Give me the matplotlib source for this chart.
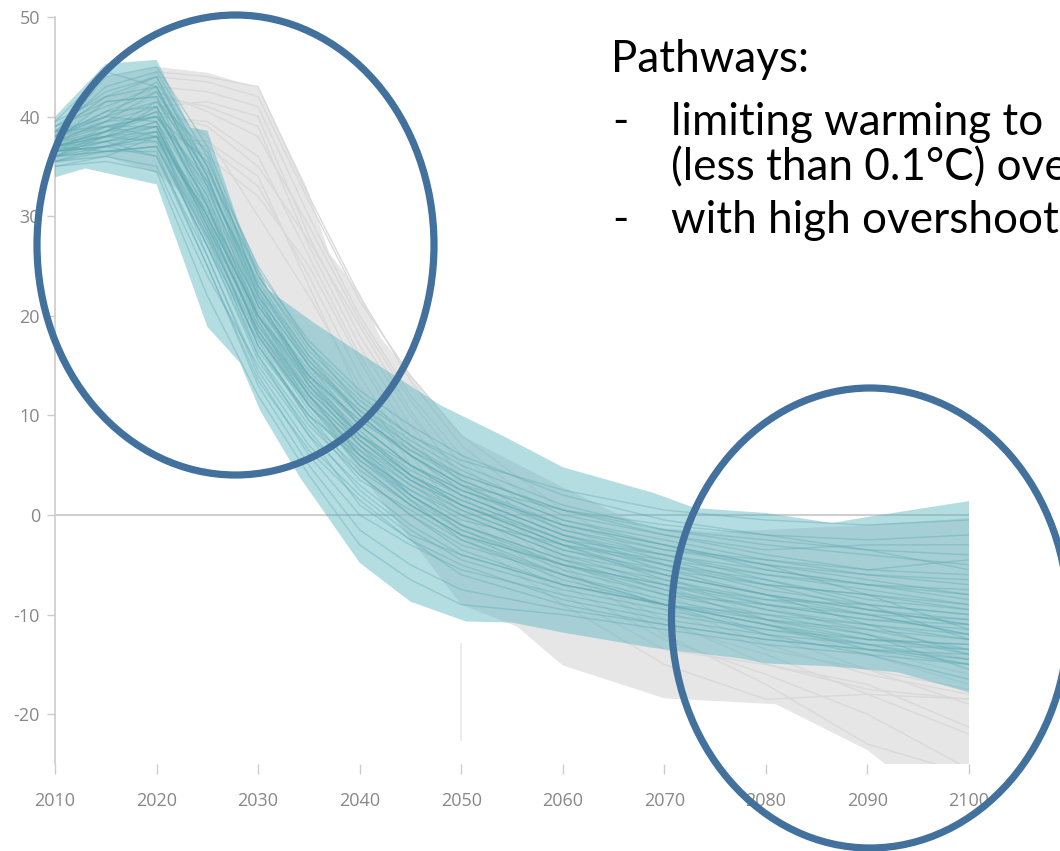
import matplotlib
matplotlib.use("Agg")
import matplotlib.pyplot as plt
from matplotlib.patches import Ellipse

# ---------------------------------------------------------------------------
# Data
# ---------------------------------------------------------------------------
years = [2010, 2015, 2020, 2025, 2030, 2035, 2040, 2045, 2050, 2060, 2070, 2080, 2090, 2100]

# Pathways limiting warming to 1.5°C with no or limited overshoot
low_overshoot_paths = [
    [39.5, 42.0, 44.0, 34.0, 22.0, 15.0, 10.0, 6.0, 3.0, -1.0, -3.0, -5.0, -6.0, -7.0],
    [37.0, 38.0, 41.0, 30.0, 20.0, 13.0, 8.0, 4.0, 1.0, -3.0, -6.0, -8.0, -9.5, -11.0],
    [36.0, 36.5, 37.0, 28.0, 18.0, 11.0, 5.0, 1.0, -2.0, -5.0, -8.0, -10.0, -12.0, -14.0],
    [38.0, 40.5, 42.5, 35.0, 24.0, 17.0, 12.0, 8.0, 5.0, 1.0, -1.5, -3.0, -4.0, -5.0],
    [35.0, 36.0, 35.0, 24.0, 15.0, 8.0, 3.0, -1.0, -4.0, -7.0, -9.0, -11.0, -13.0, -15.0],
    [37.5, 39.5, 40.0, 32.0, 21.0, 14.0, 9.0, 5.0, 2.0, -2.0, -4.0, -6.0, -7.0, -8.5],
    [36.5, 37.5, 39.0, 29.0, 17.0, 10.0, 6.0, 2.5, 0.0, -4.0, -7.0, -9.0, -10.0, -12.0],
    [38.5, 43.0, 44.5, 36.0, 23.0, 16.0, 11.0, 7.5, 4.5, 0.0, -2.0, -3.5, -3.0, -3.0],
    [35.5, 37.0, 36.0, 26.0, 14.0, 6.0, 0.0, -3.0, -5.5, -8.0, -10.0, -11.5, -12.5, -13.5],
    [37.0, 38.5, 40.5, 31.0, 19.0, 12.0, 7.0, 3.0, 0.5, -3.5, -5.5, -7.0, -8.0, -9.0],
    [39.0, 41.0, 43.0, 33.0, 21.0, 14.5, 9.0, 5.0, 2.5, -1.0, -3.5, -4.5, -6.0, -6.5],
    [36.0, 38.0, 37.5, 27.0, 16.0, 9.0, 4.0, 0.0, -3.0, -6.0, -8.5, -10.5, -12.0, -15.5],
    [38.0, 39.0, 38.0, 30.0, 20.0, 13.5, 8.5, 4.0, 1.5, -2.5, -5.0, -7.5, -9.0, -10.0],
    [37.5, 41.5, 42.0, 33.5, 22.5, 15.5, 10.5, 6.5, 3.5, -0.5, -2.5, -4.5, -5.5, -6.0],
    [36.5, 37.0, 38.5, 29.5, 18.5, 11.5, 6.5, 2.0, -1.0, -4.5, -7.5, -9.5, -11.0, -12.5],
    [35.5, 36.5, 36.5, 25.0, 13.0, 5.0, -1.5, -5.0, -7.5, -9.5, -11.0, -12.5, -13.5, -14.5],
    [38.5, 40.0, 41.5, 34.5, 24.5, 17.5, 12.5, 9.0, 6.0, 2.0, -0.5, -2.0, -2.5, -2.0],
    [37.0, 38.0, 39.5, 31.5, 20.0, 12.5, 7.5, 3.5, 1.0, -3.0, -5.0, -6.5, -8.5, -9.5],
    [36.0, 37.5, 38.0, 27.5, 16.5, 10.0, 5.5, 1.5, -1.5, -5.5, -8.0, -9.0, -10.5, -11.5],
    [38.0, 39.5, 41.0, 32.0, 19.5, 12.0, 6.0, 2.5, -0.5, -3.0, -4.5, -6.0, -7.5, -9.0],
    [37.0, 38.5, 39.0, 28.5, 17.0, 9.5, 3.5, 0.5, -2.5, -6.5, -9.0, -11.0, -12.5, -13.0],
    [36.5, 37.0, 37.5, 30.5, 21.5, 14.0, 8.0, 4.5, 2.0, -2.0, -4.5, -7.0, -9.5, -11.0],
    [39.0, 41.5, 42.0, 31.0, 18.0, 11.0, 6.5, 3.0, 0.0, -4.0, -6.0, -8.0, -9.5, -10.5],
    [37.5, 39.0, 40.0, 33.0, 23.5, 16.0, 10.0, 6.0, 3.0, -1.5, -4.0, -5.5, -7.0, -7.5],
    [35.0, 35.5, 34.5, 22.0, 12.0, 4.0, -3.0, -6.5, -9.0, -10.0, -11.5, -13.0, -14.0, -16.5],
    [38.0, 40.0, 43.5, 35.0, 22.0, 13.0, 7.0, 2.0, -1.5, -5.0, -7.0, -8.5, -9.0, -10.0],
    [36.5, 38.0, 39.0, 29.0, 19.0, 12.5, 7.5, 4.0, 1.0, -2.5, -5.5, -8.0, -10.0, -12.0],
    [37.0, 37.5, 38.5, 30.0, 18.0, 10.5, 5.0, 1.0, -2.0, -5.0, -7.0, -9.5, -11.5, -13.5],
    [38.5, 42.0, 43.0, 34.0, 21.5, 14.0, 9.5, 6.0, 3.0, 0.5, -1.5, -2.5, -3.5, -4.0],
    [36.0, 36.5, 37.0, 27.0, 15.5, 8.5, 2.5, -1.5, -4.5, -7.5, -9.5, -11.5, -13.0, -14.5],
    [37.5, 38.5, 40.5, 31.0, 20.5, 13.0, 8.0, 5.0, 2.5, -1.0, -3.0, -5.0, -8.0, -11.5],
    [36.0, 37.0, 38.0, 28.0, 16.0, 8.0, 1.0, -2.5, -5.0, -8.5, -10.5, -12.0, -13.0, -13.5],
    [38.0, 40.5, 41.0, 32.5, 22.0, 15.0, 10.5, 7.0, 4.0, 0.5, -2.0, -4.0, -5.5, -4.5],
    [37.0, 38.0, 38.5, 26.0, 14.5, 7.0, 2.0, -2.0, -4.0, -7.0, -9.0, -10.0, -11.0, -12.0],
    [36.5, 39.0, 40.0, 33.5, 23.0, 15.0, 9.0, 5.0, 2.0, -2.0, -5.0, -7.0, -8.0, -9.5],
    [37.5, 38.0, 39.5, 29.5, 18.5, 11.0, 6.0, 2.0, -1.0, -4.5, -6.5, -9.0, -10.5, -11.0],
    [38.0, 44.0, 45.0, 37.0, 24.0, 16.5, 11.5, 8.0, 5.5, 2.5, 0.5, -0.5, -1.0, -0.5],
    [39.5, 44.5, 43.0, 33.0, 20.0, 12.0, 6.0, 1.5, -2.5, -6.0, -9.0, -12.0, -14.0, -15.0],
    [36.0, 38.5, 41.5, 36.5, 22.5, 13.5, 7.5, 3.5, 0.5, -3.5, -6.0, -8.0, -11.0, -14.0],
    [37.0, 36.5, 37.0, 27.0, 17.5, 9.5, 4.5, 1.0, -2.0, -6.0, -9.0, -11.0, -13.5, -15.0],
    [38.5, 39.0, 39.0, 30.0, 20.0, 14.0, 9.5, 6.5, 4.0, 0.5, -1.0, -2.0, -3.5, -5.5],
    [36.5, 37.5, 36.0, 25.0, 13.5, 6.5, 1.5, -2.5, -6.0, -9.0, -11.0, -12.5, -13.5, -14.0],
    [37.5, 39.5, 42.5, 34.0, 21.0, 13.5, 8.0, 4.0, 1.5, -2.5, -4.0, -6.5, -9.0, -12.5],
    [35.5, 36.0, 38.0, 31.0, 19.5, 11.0, 5.5, 2.0, -1.0, -5.0, -7.5, -10.5, -12.5, -13.0],
    [38.0, 40.0, 39.5, 29.0, 18.5, 12.0, 7.0, 3.5, 1.0, -3.0, -6.5, -8.5, -10.0, -10.5],
    [37.0, 38.5, 40.0, 35.5, 25.0, 17.0, 11.0, 7.0, 3.5, -0.5, -3.0, -5.5, -7.0, -8.0],
    [36.5, 37.0, 38.0, 28.5, 17.0, 10.0, 4.0, 0.0, -3.5, -7.0, -9.0, -10.5, -11.5, -12.5],
    [39.0, 42.5, 44.0, 35.0, 23.0, 15.5, 10.0, 6.0, 2.5, -1.5, -3.5, -5.0, -6.5, -8.0],
]

# Pathways with high overshoot
high_overshoot_paths = [
    [37.0, 40.0, 43.0, 42.5, 41.0, 30.0, 20.0, 12.0, 6.0, -2.0, -7.0, -11.0, -14.0, -17.0],
    [36.5, 38.5, 41.0, 41.5, 40.0, 28.0, 18.0, 10.0, 4.0, -4.0, -9.0, -13.0, -16.0, -18.0],
    [38.0, 41.5, 44.0, 43.5, 42.0, 31.5, 21.5, 14.0, 8.0, 0.5, -5.0, -9.0, -12.0, -14.5],
    [37.5, 39.0, 40.0, 39.5, 36.0, 26.0, 16.0, 8.0, 2.0, -5.5, -10.5, -15.0, -17.5, -18.5],
    [36.0, 37.0, 38.5, 37.0, 33.0, 24.0, 14.0, 6.0, 0.0, -7.0, -12.5, -16.0, -20.0, -25.5],
    [38.5, 42.0, 42.5, 40.5, 38.0, 29.0, 19.5, 11.5, 5.0, -3.0, -8.0, -12.0, -15.5, -19.0],
    [37.0, 39.5, 41.5, 38.0, 30.0, 22.0, 13.0, 5.0, -1.0, -8.0, -13.5, -15.0, -17.0, -21.3],
    [37.5, 40.5, 44.5, 44.0, 43.0, 32.0, 22.0, 13.5, 7.0, -1.0, -6.0, -10.5, -13.5, -16.0],
    [36.5, 38.0, 39.0, 36.0, 32.0, 25.0, 15.5, 7.0, 1.0, -6.0, -11.0, -14.0, -18.0, -22.0],
    [38.0, 40.0, 42.0, 41.0, 39.0, 27.0, 17.0, 9.0, 3.0, -4.5, -9.5, -13.5, -15.5, -17.5],
    [37.0, 39.0, 40.5, 39.0, 35.0, 27.5, 19.0, 10.5, 3.5, -5.0, -12.0, -17.0, -23.0, -26.0],
    [36.0, 38.0, 38.0, 37.5, 34.0, 23.0, 12.0, 4.0, -2.0, -9.0, -15.0, -18.5, -18.0, -18.5],
]

# Envelope of the no/limited-overshoot group
low_upper_years = [2010, 2015, 2020, 2023.3, 2025, 2028, 2031, 2035.5, 2041, 2048, 2054,
                   2060, 2069, 2073, 2080, 2086.5, 2090, 2100]
low_upper = [40.0, 45.3, 45.7, 38.9, 38.6, 29.6, 22.6, 19.3, 15.6, 11.0, 8.0,
             4.8, 2.2, 0.7, 0.2, -0.8, -0.2, 1.4]
low_lower_years = [2010, 2013, 2019.5, 2020, 2025, 2028.2, 2030.2, 2034.1, 2040, 2045,
                   2050.5, 2055, 2060, 2068.6, 2077.5, 2080, 2086.5, 2093, 2100]
low_lower = [33.9, 34.8, 33.3, 33.2, 18.9, 15.3, 10.5, 3.8, -4.8, -8.7,
             -10.7, -10.8, -11.8, -13.3, -14.4, -14.9, -15.2, -15.8, -17.8]

# Envelope of the high-overshoot group
high_upper_years = [2010, 2015, 2020, 2025, 2030, 2034.8, 2037, 2040, 2042, 2045, 2050,
                    2060, 2068, 2075, 2080, 2090, 2100]
high_upper = [38.4, 43.9, 45.0, 44.4, 42.9, 32.9, 26.3, 22.3, 17.9, 14.0, 8.0,
              2.8, -1.2, -1.7, -1.5, -1.0, -0.3]
high_lower_years = [2010, 2015, 2020, 2022.5, 2026, 2029, 2032.5, 2036.5, 2040, 2050,
                    2055.5, 2060, 2070, 2081, 2090, 2092, 2100]
high_lower = [35.3, 36.0, 34.3, 32.3, 25.6, 18.9, 13.9, 9.5, 4.2, -9.0,
              -11.2, -15.1, -18.4, -19.0, -23.6, -25.2, -25.2]

x_ticks = [2010, 2020, 2030, 2040, 2050, 2060, 2070, 2080, 2090, 2100]
y_ticks = [-20, -10, 0, 10, 20, 30, 40, 50]

title_line = "Pathways:"
bullet_lines = [
    ("-", "limiting warming to"),
    ("", "(less than 0.1°C) overshoot"),
    ("-", "with high overshoot"),
]

# ---------------------------------------------------------------------------
# Styling
# ---------------------------------------------------------------------------
W, H = 1060, 851
GREY_FILL = "#e6e6e6"
GREY_LINE = "#d9d9d9"
TEAL_FILL = "#4cb0bc"
TEAL_LINE = "#5fa9b2"
AXIS_GREY = "#cccccc"
LABEL_GREY = "#888888"
RING_BLUE = "#41719c"

fig = plt.figure(figsize=(W / 100, H / 100), dpi=100)
fig.patch.set_facecolor("white")

ax_left, ax_right, ax_top, ax_bottom = 55, 969, 17, 764
ax = fig.add_axes([ax_left / W, 1 - ax_bottom / H,
                   (ax_right - ax_left) / W, (ax_bottom - ax_top) / H])
ax.set_xlim(2010, 2100)
ax.set_ylim(-25, 50)
ax.set_facecolor("none")

# High-overshoot envelope and its pathways
ax.fill(high_upper_years + high_lower_years[::-1], high_upper + high_lower[::-1],
        color=GREY_FILL, lw=0, zorder=1)
for path in high_overshoot_paths:
    ax.plot(years, path, color=GREY_LINE, lw=1.0, zorder=2)

# Zero line
ax.axhline(0, color="#cfcfcf", lw=1.5, zorder=3)

# Faint marker at 2050
ax.plot([2050, 2050], [-13.0, -22.6], color="#ebebeb", lw=1.3, zorder=3)

# No/limited-overshoot envelope and its pathways
ax.fill(low_upper_years + low_lower_years[::-1], low_upper + low_lower[::-1],
        color=TEAL_FILL, alpha=0.42, lw=0, zorder=4)
for path in low_overshoot_paths:
    ax.plot(years, path, color=TEAL_LINE, lw=1.0, alpha=0.4, zorder=5)

# Axes decoration
for side in ("top", "right", "bottom"):
    ax.spines[side].set_visible(False)
ax.spines["left"].set_color(AXIS_GREY)
ax.spines["left"].set_linewidth(1.2)
ax.set_xticks(x_ticks)
ax.set_xticklabels([str(t) for t in x_ticks])
ax.set_yticks(y_ticks)
ax.set_yticklabels([str(t) for t in y_ticks])
ax.tick_params(axis="x", direction="out", length=7.2, width=1.0, color=AXIS_GREY,
               labelcolor=LABEL_GREY, labelsize=13, pad=13)
ax.tick_params(axis="y", direction="out", length=5.8, width=1.0, color=AXIS_GREY,
               labelcolor=LABEL_GREY, labelsize=13, pad=5)
for lab in ax.get_xticklabels() + ax.get_yticklabels():
    lab.set_family("Open Sans")

# Highlight rings
for cx, cy in [(235.5, 245), (870, 618)]:
    ring = Ellipse((cx / W, 1 - cy / H), 397 / W, 460 / H, fill=False,
                   edgecolor=RING_BLUE, lw=5.2, transform=fig.transFigure, zorder=10)
    fig.add_artist(ring)

# Annotation text
text_size = 31.7
fig.text(611 / W, 1 - 72 / H, title_line, family="Lato", fontsize=text_size,
         color="black", va="baseline", ha="left")
for (dash, body), base in zip(bullet_lines, [135, 180, 233]):
    if dash:
        fig.text(612 / W, 1 - base / H, dash, family="Lato", fontsize=text_size,
                 color="black", va="baseline", ha="left")
    fig.text(671 / W, 1 - base / H, body, family="Lato", fontsize=text_size,
             color="black", va="baseline", ha="left")

fig.savefig("out.png", dpi=100)
